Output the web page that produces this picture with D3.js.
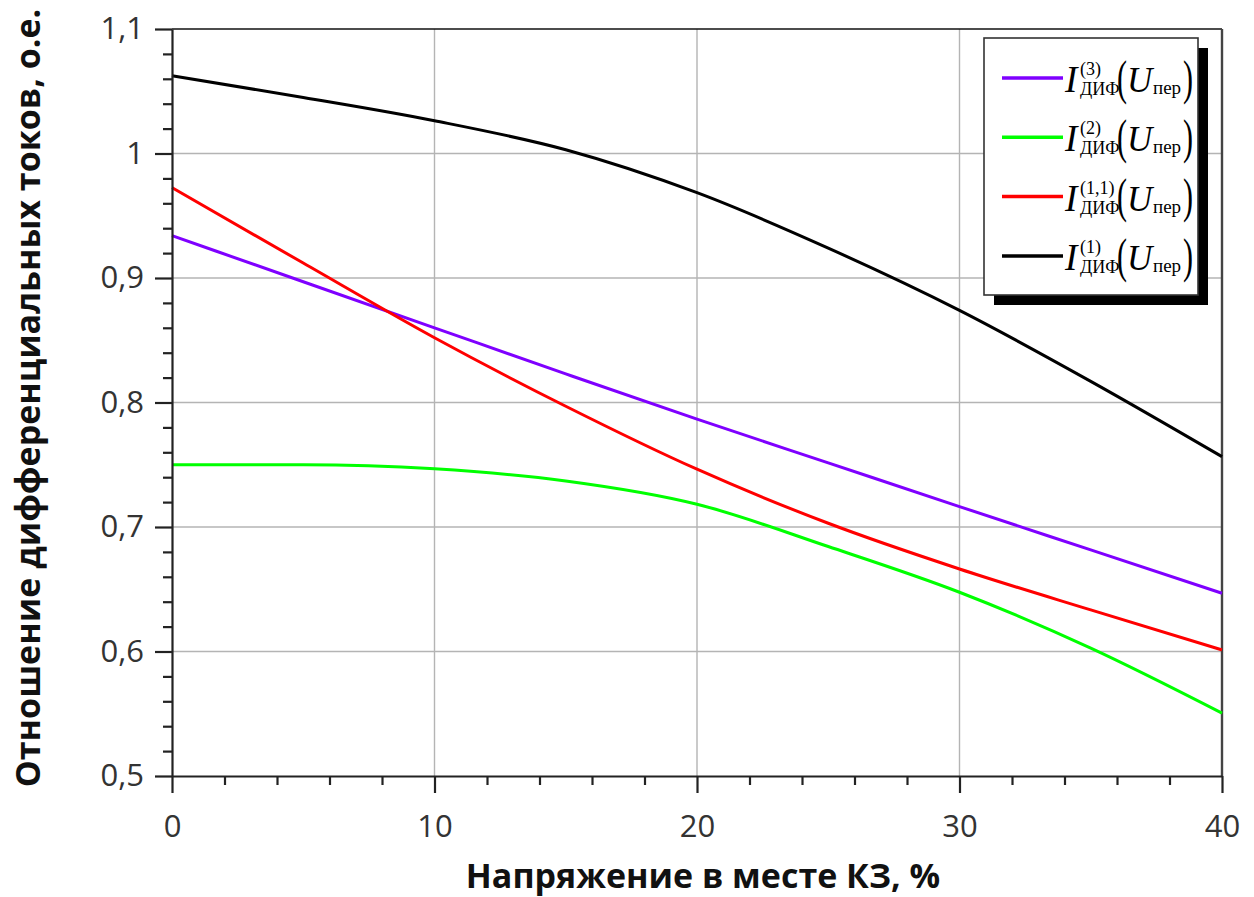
<!DOCTYPE html>
<html>
<head>
<meta charset="utf-8">
<script src="https://cdn.jsdelivr.net/npm/d3@7"></script>
<style>
  html, body { margin: 0; padding: 0; background: #fff; }
  svg { display: block; }
</style>
</head>
<body>
<svg id="chart" width="1254" height="897"></svg>
<script>
// Fault-point voltage, % (x samples shared by all curves)
const uFault = [0, 5, 10, 15, 20, 25, 30, 35, 40];

// Differential current ratios, p.u.
const iDif3  = [0.934, 0.897, 0.860, 0.823, 0.7866, 0.7515, 0.7164, 0.6816, 0.6468];
const iDif2  = [0.750, 0.750, 0.7467, 0.737, 0.7183, 0.6843, 0.6476, 0.6027, 0.5505];
const iDif11 = [0.9726, 0.912, 0.852, 0.797, 0.7464, 0.703, 0.6663, 0.6334, 0.6013];
const iDif1  = [1.0625, 1.045, 1.0263, 1.003, 0.9685, 0.924, 0.874, 0.817, 0.7565];

// Legend superscripts (fault type) in drawing order
const seriesTags = ["(3)", "(2)", "(1,1)", "(1)"];
const seriesColors = ["#7f00ff", "#00ff00", "#ff0000", "#000000"];

const xTicksMajor = [0, 10, 20, 30, 40];
const yTicksMajor = [0.5, 0.6, 0.7, 0.8, 0.9, 1.0, 1.1];

const svg = d3.select("#chart");
const plotL = 172, plotR = 1222, plotT = 29, plotB = 776;

const x = d3.scaleLinear().domain([0, 40]).range([plotL, plotR]);
const y = d3.scaleLinear().domain([0.5, 1.1]).range([plotB, plotT]);

const fmt = v => d3.format("~g")(+v.toFixed(2)).replace(".", ",");

// grid
const grid = svg.append("g").attr("stroke", "#b4b4b4").attr("stroke-width", 1.4);
grid.selectAll(".gx").data(xTicksMajor.filter(d => d > 0 && d < 40)).join("line")
  .attr("x1", d => x(d)).attr("x2", d => x(d)).attr("y1", plotT).attr("y2", plotB);
grid.selectAll(".gy").data(yTicksMajor.filter(d => d > 0.5 && d < 1.1)).join("line")
  .attr("x1", plotL).attr("x2", plotR).attr("y1", d => y(d)).attr("y2", d => y(d));

// frame: top and right edges
svg.append("line").attr("x1", plotL).attr("x2", plotR).attr("y1", plotT).attr("y2", plotT)
  .attr("stroke", "#111").attr("stroke-width", 1.6);
svg.append("line").attr("x1", plotR).attr("x2", plotR).attr("y1", plotT).attr("y2", plotB)
  .attr("stroke", "#444").attr("stroke-width", 2.4);

// curves
const series = [iDif3, iDif2, iDif11, iDif1];
const line = d3.line().x(d => x(d[0])).y(d => y(d[1])).curve(d3.curveMonotoneX);
series.forEach((vals, i) => {
  svg.append("path")
    .datum(uFault.map((u, k) => [u, vals[k]]))
    .attr("fill", "none")
    .attr("stroke", seriesColors[i])
    .attr("stroke-width", 3)
    .attr("d", line);
});

// axes
svg.append("g").attr("transform", `translate(0,${plotB})`)
  .call(d3.axisBottom(x).tickValues(xTicksMajor).tickSize(17).tickSizeOuter(0).tickPadding(22)
    .tickFormat(d3.format("d")));
svg.append("g").attr("transform", `translate(0,${plotB})`)
  .call(d3.axisBottom(x).tickValues(d3.range(0, 41, 2).filter(d => d % 10 !== 0))
    .tickSize(9).tickSizeOuter(0).tickFormat(""))
  .call(g => g.select(".domain").remove());

svg.append("g").attr("transform", `translate(${plotL},0)`)
  .call(d3.axisLeft(y).tickValues(yTicksMajor).tickSize(17).tickSizeOuter(0).tickPadding(11)
    .tickFormat(fmt));
svg.append("g").attr("transform", `translate(${plotL},0)`)
  .call(d3.axisLeft(y).tickValues(d3.range(0, 31).map(i => 0.5 + i * 0.02)
      .filter(d => Math.abs(d * 10 - Math.round(d * 10)) > 1e-6))
    .tickSize(9).tickSizeOuter(0).tickFormat(""))
  .call(g => g.select(".domain").remove());

svg.selectAll(".domain").attr("stroke", "#222").attr("stroke-width", 2.2);
svg.selectAll(".tick line").attr("stroke", "#222").attr("stroke-width", 2.2);
svg.selectAll(".tick text")
  .attr("font-family", "'Open Sans', sans-serif")
  .attr("font-size", 31)
  .attr("fill", "#333");

// axis titles
svg.append("text")
  .attr("x", 703).attr("y", 888)
  .attr("text-anchor", "middle")
  .attr("font-family", "'Open Sans', sans-serif")
  .attr("font-weight", "bold").attr("font-size", 34)
  .attr("fill", "#111")
  .text("Напряжение в месте КЗ, %");

svg.append("text")
  .attr("transform", "translate(40,398) rotate(-90)")
  .attr("text-anchor", "middle")
  .attr("font-family", "'Open Sans', sans-serif")
  .attr("font-weight", "bold").attr("font-size", 34)
  .attr("fill", "#111")
  .text("Отношение дифференциальных токов, о.е.");

// legend
const lg = svg.append("g");
lg.append("rect").attr("x", 994).attr("y", 48).attr("width", 214).attr("height", 257).attr("fill", "#000");
lg.append("rect").attr("x", 984).attr("y", 38).attr("width", 214).attr("height", 257)
  .attr("fill", "#fff").attr("stroke", "#333").attr("stroke-width", 1.6);

const serif = "'Liberation Serif', 'Times New Roman', serif";
seriesTags.forEach((tag, i) => {
  const cy = 78 + i * 59.3;
  const g = lg.append("g").attr("transform", `translate(0,${cy})`);
  g.append("line").attr("x1", 1002).attr("x2", 1063).attr("y1", 0).attr("y2", 0)
    .attr("stroke", seriesColors[i]).attr("stroke-width", 3.5);
  const t = (txt, xx, yy, size, italic) => g.append("text")
    .attr("x", xx).attr("y", yy).attr("font-family", serif).attr("font-size", size)
    .attr("font-style", italic ? "italic" : "normal").attr("fill", "#000").text(txt);
  // tall, thin parentheses around the argument
  const paren = (txt, xx) => g.append("text")
    .attr("transform", `translate(${xx},15.7) scale(1,1.6)`)
    .attr("font-family", serif).attr("font-size", 30).attr("fill", "#000").text(txt);
  t("I", 1065, 14, 37, true);
  t(tag, 1080, -3, 18, false);
  t("ДИФ", 1080, 17, 18, false);
  paren("(", 1117);
  t("U", 1127, 14, 35, true);
  t("пер", 1153, 16, 19, false);
  paren(")", 1183);
});
</script>
</body>
</html>
